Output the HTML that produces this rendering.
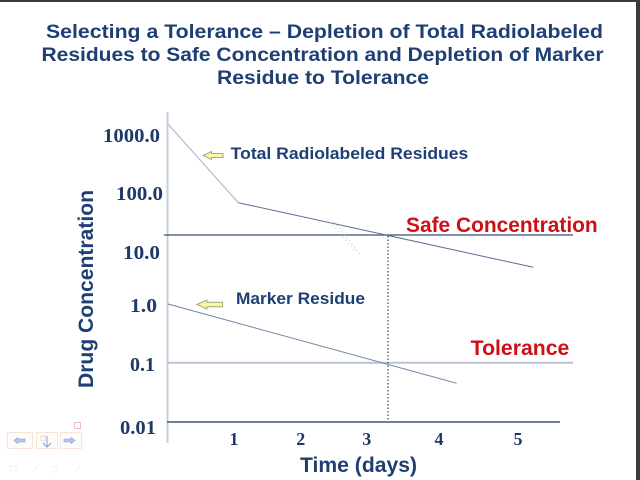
<!DOCTYPE html>
<html>
<head>
<meta charset="utf-8">
<style>
  html,body{margin:0;padding:0;background:#fff;}
  body{width:640px;height:480px;overflow:hidden;}
  svg{display:block;}
</style>
</head>
<body>
<svg width="640" height="480" viewBox="0 0 640 480" xmlns="http://www.w3.org/2000/svg">
  <rect x="0" y="0" width="640" height="480" fill="#ffffff"/>
  <!-- frame edges -->
  <rect x="0" y="0" width="640" height="2" fill="#3a3a3a"/>
  <rect x="636" y="0" width="4" height="480" fill="#3a3a3a"/>

  <!-- Title -->
  <g font-family="'Liberation Sans', Arial, sans-serif" font-weight="bold" font-size="19.5" fill="#1f3f74">
    <text x="46" y="38" textLength="557" lengthAdjust="spacingAndGlyphs">Selecting a Tolerance – Depletion of Total Radiolabeled</text>
    <text x="41.5" y="61" textLength="562" lengthAdjust="spacingAndGlyphs">Residues to Safe Concentration and Depletion of Marker</text>
    <text x="217" y="84" textLength="212" lengthAdjust="spacingAndGlyphs">Residue to Tolerance</text>
  </g>

  <!-- Y axis -->
  <line x1="167.5" y1="112" x2="167.5" y2="443" stroke="#c5cedb" stroke-width="2"/>
  <!-- X axis -->
  <line x1="167" y1="422" x2="560" y2="422" stroke="#3e5478" stroke-width="1.5"/>

  <!-- Safe concentration line -->
  <line x1="164" y1="235" x2="573" y2="235" stroke="#3a5078" stroke-width="1.2"/>
  <!-- Tolerance line -->
  <line x1="168" y1="362.7" x2="573" y2="362.7" stroke="#b9c4d4" stroke-width="2"/>

  <!-- vertical dotted -->
  <line x1="388" y1="236" x2="388" y2="422" stroke="#4a5f85" stroke-width="1.4" stroke-dasharray="1.5 2"/>

  <!-- Total radiolabeled series -->
  <polyline points="167.5,123.5 238.3,202.7" fill="none" stroke="#b5bccb" stroke-width="1.2"/>
  <polyline points="238.3,202.7 533.3,267.3" fill="none" stroke="#5c6f92" stroke-width="1"/>
  <!-- Marker residue -->
  <line x1="168" y1="304" x2="456.7" y2="383.3" stroke="#7383a3" stroke-width="1"/>

  <!-- cursor artifact -->
  <g stroke="#b4b8c0" stroke-width="1" stroke-dasharray="1 3" opacity="0.8">
    <line x1="330" y1="222" x2="356" y2="252"/>
    <line x1="334" y1="222" x2="360" y2="254"/>
  </g>

  <!-- Y tick labels -->
  <g font-family="'Liberation Serif', 'Times New Roman', serif" font-weight="bold" font-size="20" fill="#1f3a68">
    <text x="103" y="142" textLength="57" lengthAdjust="spacingAndGlyphs">1000.0</text>
    <text x="116" y="200" textLength="47" lengthAdjust="spacingAndGlyphs">100.0</text>
    <text x="123" y="259" textLength="37" lengthAdjust="spacingAndGlyphs">10.0</text>
    <text x="130" y="312" textLength="27" lengthAdjust="spacingAndGlyphs">1.0</text>
    <text x="130" y="371" textLength="25" lengthAdjust="spacingAndGlyphs">0.1</text>
    <text x="120" y="434" textLength="36" lengthAdjust="spacingAndGlyphs">0.01</text>
  </g>

  <!-- X tick labels -->
  <g font-family="'Liberation Serif', 'Times New Roman', serif" font-weight="bold" font-size="18" fill="#1f3a68" text-anchor="middle">
    <text x="234" y="445">1</text>
    <text x="300.7" y="445">2</text>
    <text x="366.7" y="445">3</text>
    <text x="439" y="445">4</text>
    <text x="518" y="445">5</text>
  </g>

  <!-- Axis titles -->
  <text x="300" y="472" font-family="'Liberation Sans', Arial, sans-serif" font-weight="bold" font-size="21" fill="#1f3f74" textLength="117" lengthAdjust="spacingAndGlyphs">Time (days)</text>
  <text transform="translate(93,388) rotate(-90)" x="0" y="0" font-family="'Liberation Sans', Arial, sans-serif" font-weight="bold" font-size="21" fill="#1f3f74" textLength="198" lengthAdjust="spacingAndGlyphs">Drug Concentration</text>

  <!-- Series labels -->
  <g font-family="'Liberation Sans', Arial, sans-serif" font-weight="bold" font-size="17" fill="#1f3f74">
    <text x="230.7" y="159" textLength="237.6" lengthAdjust="spacingAndGlyphs">Total Radiolabeled Residues</text>
    <text x="236" y="304" textLength="129" lengthAdjust="spacingAndGlyphs">Marker Residue</text>
  </g>
  <g font-family="'Liberation Sans', Arial, sans-serif" font-weight="bold" font-size="21" fill="#cc1016">
    <text x="406" y="232" textLength="191.7" lengthAdjust="spacingAndGlyphs">Safe Concentration</text>
    <text x="470.7" y="355" textLength="98.6" lengthAdjust="spacingAndGlyphs">Tolerance</text>
  </g>

  <!-- Arrows -->
  <polygon points="203,155.5 211.5,151.5 211.5,153.5 223,153.5 223,157.5 211.5,157.5 211.5,159.5" fill="#fbf7a8" stroke="#a8a67a" stroke-width="1"/>
  <polygon points="197,304.5 207,300 207,302.3 222.5,302.3 222.5,306.7 207,306.7 207,309" fill="#fbf7a8" stroke="#a8a67a" stroke-width="1"/>

  <!-- Navigation icons bottom-left -->
  <g opacity="0.75">
    <rect x="74.5" y="422.5" width="6" height="6" fill="none" stroke="#f0a8a8" stroke-width="1"/>
    <rect x="7.5" y="432.5" width="25" height="16" fill="#fffaf6" stroke="#f6dccc" stroke-width="1"/>
    <rect x="36.5" y="432.5" width="21" height="16" fill="#fffaf6" stroke="#f6dccc" stroke-width="1"/>
    <rect x="60.5" y="432.5" width="21" height="16" fill="#fffaf6" stroke="#f6dccc" stroke-width="1"/>
    <polygon points="14,440.5 18,437.5 18,439 25,439 25,442 18,442 18,443.5" fill="#9fb6e4" stroke="#5f7fc0" stroke-width="0.6"/>
    <polygon points="75,440.5 71,437.5 71,439 64,439 64,442 71,442 71,443.5" fill="#9fb6e4" stroke="#5f7fc0" stroke-width="0.6"/>
    <line x1="47" y1="436" x2="47" y2="446" stroke="#5f7fc0" stroke-width="1"/>
    <polyline points="43,443 47,447 51,443" fill="none" stroke="#5f7fc0" stroke-width="1"/>
    <rect x="41" y="436" width="4" height="5" fill="none" stroke="#b0bfd8" stroke-width="0.6"/>
  </g>
  <g opacity="0.25" stroke="#c8c8c8" stroke-width="1" fill="none">
    <rect x="10" y="466" width="6" height="5"/>
    <line x1="33" y1="472" x2="38" y2="466"/>
    <polyline points="51,466 56,466 56,472 51,472"/>
    <line x1="74" y1="472" x2="80" y2="466"/>
  </g>
</svg>
</body>
</html>
